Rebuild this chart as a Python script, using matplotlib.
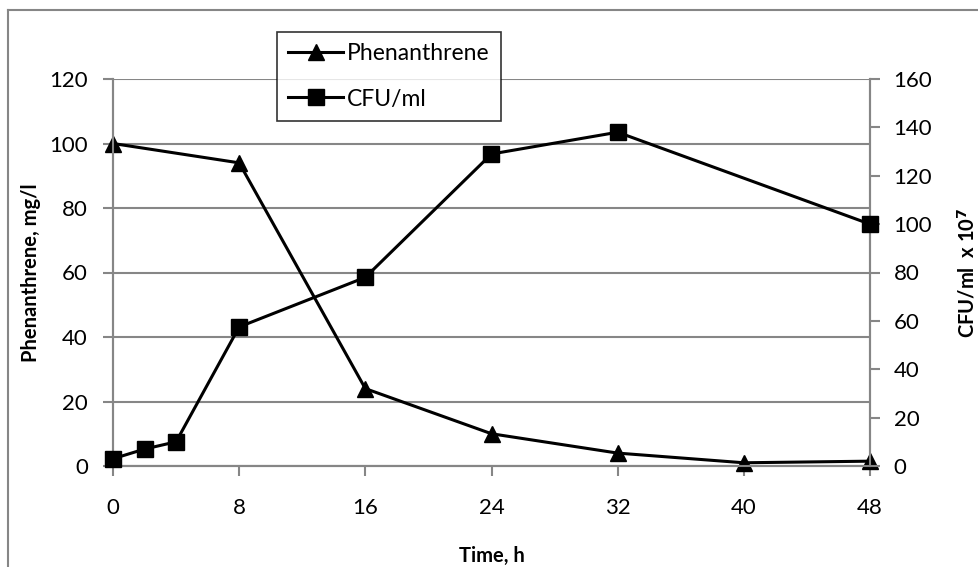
import matplotlib.pyplot as plt
from matplotlib.lines import Line2D

plt.rcParams['font.family'] = ['Lato', 'DejaVu Sans']

# data
phen_time = [0, 8, 16, 24, 32, 40, 48]
phen_conc = [100, 94, 24, 10, 4, 1, 1.5]

cfu_time = [0, 2, 4, 8, 16, 24, 32, 48]
cfu_count = [3, 7, 10, 57.5, 78, 129, 138, 100]

x_ticks = [0, 8, 16, 24, 32, 40, 48]
left_ticks = [0, 20, 40, 60, 80, 100, 120]
right_ticks = [0, 20, 40, 60, 80, 100, 120, 140, 160]

grey = '#868686'

fig = plt.figure(figsize=(9.79, 5.67), dpi=100)
ax = fig.add_axes([113 / 979, 1 - 466 / 567, (870 - 113) / 979, (466 - 79) / 567])
ax2 = ax.twinx()

ax.plot(phen_time, phen_conc, color='black', lw=2.2, marker='^', ms=12, zorder=3, clip_on=False)
ax2.plot(cfu_time, cfu_count, color='black', lw=2.2, marker='s', ms=12, zorder=3, clip_on=False)

ax.set_xlim(0, 48)
ax.set_ylim(0, 120)
ax2.set_ylim(0, 160)
ax.set_xticks(x_ticks)
ax.set_yticks(left_ticks)
ax2.set_yticks(right_ticks)

ax.yaxis.grid(True, color=grey, lw=1.5)
ax.set_axisbelow(True)

for a in (ax, ax2):
    a.spines['top'].set_visible(False)
    for s in ('left', 'right', 'bottom'):
        a.spines[s].set_color(grey)
        a.spines[s].set_linewidth(1.5)
    a.tick_params(direction='out', length=7, width=1.5, color=grey,
                  labelsize=16, labelcolor='black')
ax.tick_params(axis='y', pad=11)
ax.tick_params(axis='x', pad=16)
ax2.tick_params(axis='y', pad=10)

ax.set_xlabel('Time, h', fontsize=14.5, fontweight='bold', labelpad=20)
ax.set_ylabel('Phenanthrene, mg/l', fontsize=14.5, fontweight='bold', labelpad=6)
ax2.set_ylabel(r'CFU/ml  x 10$^\mathbf{7}$', fontsize=14.5, fontweight='bold', labelpad=17)

handles = [
    Line2D([], [], color='black', lw=2.2, marker='^', ms=12),
    Line2D([], [], color='black', lw=2.2, marker='s', ms=12),
]
leg = fig.legend(handles, ['Phenanthrene', 'CFU/ml'], loc='upper left',
                 bbox_to_anchor=(277 / 979, 1 - 32 / 567), fontsize=16.5,
                 frameon=True, fancybox=False, edgecolor='black',
                 handlelength=2.4, borderpad=0.5, labelspacing=1.05,
                 handletextpad=0.15, borderaxespad=0)
leg.get_frame().set_linewidth(1.2)

# outer chart border (extends past the right and bottom edges)
fig.add_artist(Line2D([8 / 979, 1], [1 - 10 / 567] * 2, color=grey, lw=1.5))
fig.add_artist(Line2D([8 / 979] * 2, [0, 1 - 10 / 567], color=grey, lw=1.5))

fig.savefig('out.png', dpi=100)
